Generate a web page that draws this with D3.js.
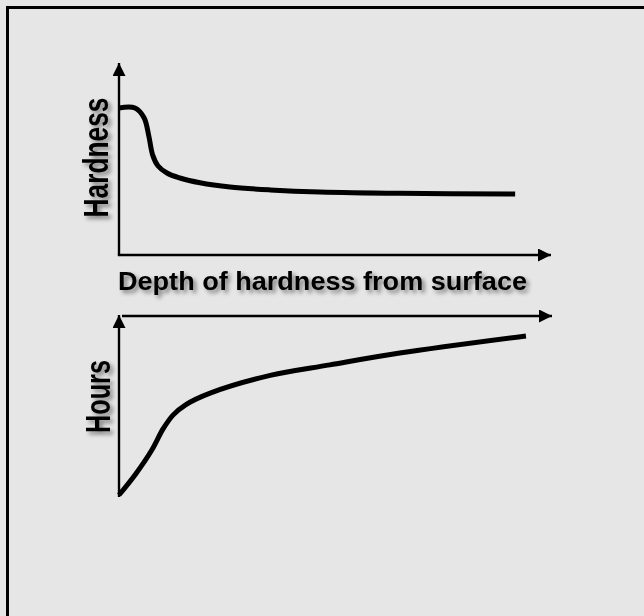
<!DOCTYPE html>
<html>
<head>
<meta charset="utf-8">
<script src="https://cdn.jsdelivr.net/npm/d3@7"></script>
<style>
html,body{margin:0;padding:0;background:#e6e6e6;}
svg{display:block;}
</style>
</head>
<body>
<script>
// Schematic data (arbitrary units 0-100)
const hardnessDepth = [0, 3.7, 5.8, 6.9, 7.8, 9.0, 11.1, 14.1, 18.75, 25.7, 35.0, 46.5, 65.0, 91.7];
const hardnessValue = [76.6, 76.6, 71.5, 62.0, 52.0, 46.5, 42.7, 40.1, 37.6, 35.4, 33.9, 32.8, 32.1, 31.8];
const hoursDepth = [0, 3.7, 7.6, 10.2, 12.5, 15.5, 21.1, 35.0, 48.8, 65.0, 94.2];
const hoursValue = [1.1, 12.1, 25.8, 37.4, 45.0, 50.8, 57.1, 66.8, 72.6, 79.1, 88.5];
const xLabel = "Depth of hardness from surface";
const yLabelTop = "Hardness";
const yLabelBottom = "Hours";

const W = 644, H = 616;
const svg = d3.select("body").append("svg").attr("width", W).attr("height", H);
svg.append("rect").attr("width", W).attr("height", H).attr("fill", "#e6e6e6");

const defs = svg.append("defs");
const f = defs.append("filter").attr("id", "shadow").attr("x", "-20%").attr("y", "-40%").attr("width", "140%").attr("height", "180%");
f.append("feDropShadow").attr("dx", 3).attr("dy", 3).attr("stdDeviation", 2.2)
  .attr("flood-color", "#000").attr("flood-opacity", 0.45);
defs.append("marker").attr("id", "arrow").attr("viewBox", "0 0 13 13")
  .attr("refX", 13).attr("refY", 6.5).attr("markerWidth", 13).attr("markerHeight", 13)
  .attr("markerUnits", "userSpaceOnUse").attr("orient", "auto")
  .append("path").attr("d", "M0,0 L13,6.5 L0,13 Z").attr("fill", "#000");

// frame
svg.append("rect").attr("x", 7.5).attr("y", 7.5).attr("width", W + 20).attr("height", H + 20)
  .attr("fill", "none").attr("stroke", "#000").attr("stroke-width", 3);

// scales
const x = d3.scaleLinear().domain([0, 100]).range([119, 551]);
const yTop = d3.scaleLinear().domain([0, 100]).range([255, 63]);
const yBot = d3.scaleLinear().domain([0, 100]).range([497, 315]);

function arrowLine(x1, y1, x2, y2){
  svg.append("line").attr("x1", x1).attr("y1", y1).attr("x2", x2).attr("y2", y2)
    .attr("stroke", "#000").attr("stroke-width", 2.4).attr("marker-end", "url(#arrow)");
}
// top chart axes
arrowLine(x(0), yTop(0), x(0), yTop(100));
arrowLine(x(0) - 1.2, yTop(0), x(100), yTop(0));
// bottom chart axes
arrowLine(x(0), yBot(0), x(0), yBot(100));
arrowLine(x(0) + 3, yBot(100) + 1, x(100) + 1, yBot(100) + 1);

const curve = d3.curveCatmullRom.alpha(0.5);
const lineTop = d3.line().x((d, i) => x(hardnessDepth[i])).y(d => yTop(d)).curve(curve);
svg.append("path").attr("d", lineTop(hardnessValue)).attr("fill", "none")
  .attr("stroke", "#000").attr("stroke-width", 5);
const lineBot = d3.line().x((d, i) => x(hoursDepth[i])).y(d => yBot(d)).curve(curve);
svg.append("path").attr("d", lineBot(hoursValue)).attr("fill", "none")
  .attr("stroke", "#000").attr("stroke-width", 5);

const font = "'Liberation Sans', Arial, sans-serif";
// x label
svg.append("g").attr("filter", "url(#shadow)")
  .append("text").attr("x", 118).attr("y", 290).attr("font-family", font)
  .attr("font-weight", "bold").attr("font-size", 26)
  .attr("textLength", 409).attr("lengthAdjust", "spacingAndGlyphs")
  .text(xLabel);
// y labels
function yLabel(txt, cx, cy, len){
  svg.append("g").attr("filter", "url(#shadow)")
    .append("text").attr("transform", `translate(${cx},${cy}) rotate(-90)`)
    .attr("text-anchor", "middle").attr("font-family", font)
    .attr("font-weight", "bold").attr("font-size", 35)
    .attr("textLength", len).attr("lengthAdjust", "spacingAndGlyphs")
    .text(txt);
}
yLabel(yLabelTop, 108, 157.5, 120);
yLabel(yLabelBottom, 110, 396.5, 73);
</script>
</body>
</html>
